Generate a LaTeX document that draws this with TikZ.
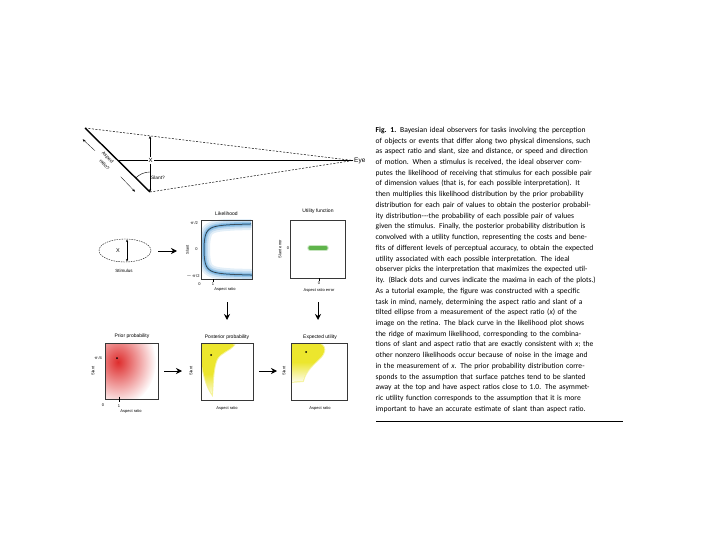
\documentclass[tikz,border=0pt]{standalone}
\usepackage{fontspec}
\setmainfont{Liberation Sans}
\newfontfamily\capfont{Carlito}
\usetikzlibrary{arrows.meta,shapes.geometric,fadings}
\definecolor{likblue}{RGB}{70,150,210}
\definecolor{priorred}{RGB}{222,45,45}
\definecolor{postyel}{RGB}{236,230,45}
\definecolor{utilgreen}{RGB}{95,180,75}
\definecolor{framegray}{RGB}{55,55,55}
% one justified line of the caption
\newcommand\capline[1]{\makebox[246pt][s]{#1}}
% ridge of maximum likelihood
\newcommand\ridgecurve{plot[domain=-1.512:1.512,samples=90,variable=\s] ({201+3/cos(\s r)},{249.5-16.9*\s})}
\newcommand\postblob{(201,343) .. controls (214,341) and (228,341) .. (234,345) .. controls (229,351) and (221,352) .. (217,359) .. controls (213,368) and (213,382) .. (212,394) .. controls (206,386) and (203,372) .. (201,360) -- cycle}
\newcommand\expblob{(291,343) -- (314,343) .. controls (325,343) and (327,350) .. (321,357) .. controls (313,365) and (306,370) .. (303,381) -- (291,382) -- cycle}

\begin{document}
\begin{tikzpicture}[x=1pt,y=-1pt,
  panel/.style 2 args={draw=framegray,line width=0.6pt,minimum width=#1,minimum height=#2,inner sep=0pt},
  ttl/.style={font=\fontsize{5}{6}\selectfont,inner sep=0pt},
  axl/.style={font=\fontsize{4}{5}\selectfont,inner sep=0pt},
  smallarrow/.style={-{Stealth[length=3pt,width=2.4pt]},line width=0.4pt},
  bigarrow/.style={-{Stealth[length=6pt,width=6pt]},line width=0.9pt}]
  \useasboundingbox (0,0) rectangle (720,540);

  % ---- eye looking at a slanted ellipse
  \node[anchor=west,font=\fontsize{6.5}{7}\selectfont,inner sep=1pt] (eye) at (353,160.5) {Eye};
  \coordinate (etop) at (85,128);
  \coordinate (ebot) at (150,192);
  \coordinate (emid) at (118,160.5);
  \coordinate (vtop) at (150,136);
  \draw[line width=1.4pt] (etop) -- (ebot);
  \draw[dash pattern=on 2pt off 1.5pt,line width=0.5pt] (etop) -- (eye.west);
  \draw[dash pattern=on 2pt off 1.5pt,line width=0.5pt] (ebot) -- (eye.west);
  \draw[line width=0.5pt] (emid) -- (eye.west);
  \draw[smallarrow,{Stealth[length=3pt,width=2.4pt]}-{Stealth[length=3pt,width=2.4pt]}] (vtop) -- (ebot);
  \draw[line width=0.4pt] (150,172) arc[start angle=-90,end angle=-135,radius=20];
  \node[fill=white,inner sep=1pt,font=\fontsize{6}{7}\selectfont] (xlab) at (150.5,160.5) {X};
  \node[anchor=west,font=\fontsize{4.8}{5}\selectfont,inner sep=0pt] (slq) at (151,177.5) {Slant?};
  \node[rotate=-45,font=\fontsize{4.8}{5.5}\selectfont,inner sep=0pt] (arq1) at (107.6,157.8) {Aspect};
  \node[rotate=-45,font=\fontsize{4.8}{5.5}\selectfont,inner sep=0pt] (arq2) at (104.6,164.6) {ratio?};
  \coordinate (ar1a) at (95,150.7);
  \coordinate (ar1b) at (82.7,139.3);
  \coordinate (ar2a) at (120.7,176.7);
  \coordinate (ar2b) at (135,191.7);
  \draw[smallarrow,line width=0.3pt] (ar1a) -- (ar1b);
  \draw[smallarrow,line width=0.3pt] (ar2a) -- (ar2b);

  % ---- stimulus
  \node[ellipse,draw,dash pattern=on 1.5pt off 1pt,line width=0.4pt,minimum width=52pt,minimum height=23pt] (stim) at (125,250.5) {};
  \node[font=\fontsize{5.5}{6}\selectfont,inner sep=0pt] (sx) at (118,251) {X};
  \draw[smallarrow,{Stealth[length=2.5pt,width=2pt]}-{Stealth[length=2.5pt,width=2pt]},line width=0.35pt] (127,239.5) -- (127,261.5);
  \node[font=\fontsize{4.5}{5}\selectfont,inner sep=0pt] (stimlab) at (124,271) {Stimulus};

  % ---- likelihood contents
  \begin{scope}
    \clip (201,220) rectangle (252,279);
    \draw[likblue!15,line width=12pt] \ridgecurve;
    \draw[likblue!32,line width=8pt] \ridgecurve;
    \draw[likblue!55,line width=4.5pt] \ridgecurve;
    \draw[likblue!80,line width=2pt] \ridgecurve;
    \draw[black!85,line width=0.5pt] \ridgecurve;
  \end{scope}
  % ---- utility contents
  \draw[utilgreen!35,line width=5.5pt,line cap=round] (310,248) -- (326,248);
  \draw[utilgreen,line width=3.2pt,line cap=round] (310,248) -- (326,248);
  % ---- prior contents
  \begin{scope}
    \clip (105,343) rectangle (158,399);
    \shade[inner color=priorred,outer color=white] (118,362) ellipse (38 and 44);
    \fill (117,358) circle (1);
  \end{scope}
  % ---- posterior contents
  \begin{scope}
    \clip (201,343) rectangle (253,400);
    \draw[postyel!45,line width=2pt] \postblob;
    \clip \postblob;
    \fill[postyel] (201,343) rectangle (253,400);
    \fill[white,path fading=north] (201,374) rectangle (253,398);
  \end{scope}
  \fill (211,355) circle (1);
  % ---- expected utility contents
  \begin{scope}
    \clip (291,343) rectangle (347,400);
    \draw[postyel!40,line width=2pt] \expblob;
    \clip \expblob;
    \fill[postyel] (291,343) rectangle (347,400);
    \fill[white,path fading=north] (291,362) rectangle (347,384);
  \end{scope}
  \fill (306,352) circle (1);

  % ---- panel frames
  \node[panel={51pt}{59pt}] (lik) at (226.5,249.5) {};
  \node[panel={55pt}{58pt}] (util) at (317.5,249) {};
  \node[panel={53pt}{56pt}] (prior) at (131.5,371) {};
  \node[panel={52pt}{57pt}] (post) at (227,371.5) {};
  \node[panel={56pt}{57pt}] (expu) at (319,371.5) {};

  % likelihood labels
  \node[ttl] at (226.5,214) {Likelihood};
  \node[axl] at (194,223) {$\pi$/2};
  \node[axl] at (196.5,249.5) {0};
  \node[axl] at (193,276) {$-\pi$/2};
  \node[axl,rotate=90] at (187.5,249.5) {Slant};
  \draw[line width=0.4pt] (213,279) -- (213,281.5);
  \node[axl] at (199.5,284) {0};
  \node[axl] at (213,284) {1};
  \node[axl] at (225,289.5) {Aspect ratio};
  % utility labels
  \node[ttl] at (318,211.5) {Utility function};
  \node[axl] at (288,248) {0};
  \node[axl,rotate=90] at (280,249) {Slant error};
  \draw[line width=0.4pt] (319,278) -- (319,280.5);
  \node[axl] at (319,283.5) {0};
  \node[axl] at (319,290) {Aspect ratio error};
  % prior labels
  \node[ttl] at (132,336) {Prior probability};
  \node[axl] at (98,358) {$\pi$/4};
  \node[axl,rotate=90] at (93,371) {Slant};
  \draw[line width=0.9pt] (119,396.5) -- (119,402);
  \node[axl] at (103,405.5) {0};
  \node[axl] at (119,406) {1};
  \node[axl] at (131,411.5) {Aspect ratio};
  % posterior labels
  \node[ttl] at (227,337) {Posterior probability};
  \node[axl,rotate=90] at (191,371) {Slant};
  \node[axl] at (227,408.5) {Aspect ratio};
  % expected utility labels
  \node[ttl] at (320,337) {Expected utility};
  \node[axl,rotate=90] at (284,371) {Slant};
  \node[axl] at (320,408.5) {Aspect ratio};

  % ---- arrows between the stages
  \coordinate (a1s) at (158,251);
  \coordinate (a1e) at (177,251);
  \coordinate (a2s) at (227,302);
  \coordinate (a2e) at (227,320);
  \coordinate (a3s) at (318,302);
  \coordinate (a3e) at (318,320);
  \coordinate (a4s) at (164,371);
  \coordinate (a4e) at (182,371);
  \coordinate (a5s) at (259,371);
  \coordinate (a5e) at (277,371);
  \foreach \s/\e in {a1s/a1e,a2s/a2e,a3s/a3e,a4s/a4e,a5s/a5e}
    \draw[bigarrow] (\s) -- (\e);

  % ---- caption
  \node[anchor=north west,inner sep=0pt,text width=246pt,align=left,
        font=\capfont\fontsize{7.6}{10.73}\selectfont] (cap) at (375.5,126.8) {%
\capline{\textbf{Fig. 1.} Bayesian ideal observers for tasks involving the perception}\\
\capline{of objects or events that differ along two physical dimensions, such}\\
\capline{as aspect ratio and slant, size and distance, or speed and direction}\\
\capline{of motion. When a stimulus is received, the ideal observer com-}\\
\capline{putes the likelihood of receiving that stimulus for each possible pair}\\
\capline{of dimension values (that is, for each possible interpretation). It}\\
\capline{then multiplies this likelihood distribution by the prior probability}\\
\capline{distribution for each pair of values to obtain the posterior probabil-}\\
\capline{ity distribution---the probability of each possible pair of values}\\
\capline{given the stimulus. Finally, the posterior probability distribution is}\\
\capline{convolved with a utility function, representing the costs and bene-}\\
\capline{fits of different levels of perceptual accuracy, to obtain the expected}\\
\capline{utility associated with each possible interpretation. The ideal}\\
\capline{observer picks the interpretation that maximizes the expected util-}\\
\capline{ity. (Black dots and curves indicate the maxima in each of the plots.)}\\
\capline{As a tutorial example, the figure was constructed with a specific}\\
\capline{task in mind, namely, determining the aspect ratio and slant of a}\\
\capline{tilted ellipse from a measurement of the aspect ratio (\textit{x}) of the}\\
\capline{image on the retina. The black curve in the likelihood plot shows}\\
\capline{the ridge of maximum likelihood, corresponding to the combina-}\\
\capline{tions of slant and aspect ratio that are exactly consistent with \textit{x}; the}\\
\capline{other nonzero likelihoods occur because of noise in the image and}\\
\capline{in the measurement of \textit{x}. The prior probability distribution corre-}\\
\capline{sponds to the assumption that surface patches tend to be slanted}\\
\capline{away at the top and have aspect ratios close to 1.0. The asymmet-}\\
\capline{ric utility function corresponds to the assumption that it is more}\\
important to have an accurate estimate of slant than aspect ratio.};
  \draw[line width=0.8pt] (376,421) -- (623,421);
\end{tikzpicture}
\end{document}
